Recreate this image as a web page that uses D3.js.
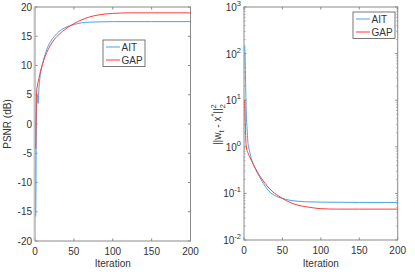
<!DOCTYPE html>
<html>
<head>
<meta charset="utf-8">
<script src="https://cdn.jsdelivr.net/npm/d3@7"></script>
<style>
  body { margin: 0; background: #fff; }
  text { font-family: "Liberation Sans", Arial, sans-serif; fill: #333; }
</style>
</head>
<body>
<svg id="chart" width="415" height="272"></svg>
<script>
// values
var psnr_ait_iter = [1, 2, 3, 4, 5, 7, 10, 15, 20, 25, 30, 35, 40, 45, 50, 60, 70, 80, 100, 150, 200];
var psnr_ait = [-15.8, 3, 5, 3.5, 6, 8.5, 10.4, 12.7, 14.1, 15.0, 15.7, 16.2, 16.55, 16.8, 17.0, 17.3, 17.4, 17.45, 17.5, 17.5, 17.5];
var psnr_gap_iter = [1, 2, 3, 5, 7, 10, 15, 20, 25, 30, 35, 40, 45, 50, 60, 70, 80, 90, 100, 120, 150, 200];
var psnr_gap = [-4.2, 5.5, 6.5, 7.8, 9, 10.4, 12.2, 13.5, 14.5, 15.2, 15.8, 16.3, 16.75, 17.15, 17.8, 18.3, 18.6, 18.8, 18.9, 19.0, 19.0, 19.0];

var err_ait_iter = [1, 2, 3, 4, 5, 6, 8, 10, 15, 20, 25, 30, 35, 40, 45, 50, 60, 70, 80, 100, 150, 200];
var err_ait = [150, 30, 5, 2.5, 1.3, 1.0, 0.7, 0.52, 0.33, 0.23, 0.165, 0.125, 0.102, 0.09, 0.083, 0.078, 0.071, 0.068, 0.066, 0.065, 0.064, 0.064];
var err_gap_iter = [1, 2, 3, 5, 8, 10, 15, 20, 25, 30, 35, 40, 45, 50, 55, 60, 70, 80, 90, 100, 120, 150, 200];
var err_gap = [10, 2, 1.0, 0.75, 0.58, 0.5, 0.34, 0.245, 0.185, 0.145, 0.118, 0.1, 0.088, 0.078, 0.07, 0.064, 0.056, 0.052, 0.049, 0.047, 0.046, 0.046, 0.046];

var x_ticks = [0, 50, 100, 150, 200];
var psnr_ticks = [-20, -15, -10, -5, 0, 5, 10, 15, 20];
var err_ticks = [-2, -1, 0, 1, 2, 3];
var series_names = ['AIT', 'GAP'];
var series_colors = ['#4aa3e0', '#ff3b3b'];

var svg = d3.select('#chart');
var axis_color = '#8a8a8a';
var fs = 10;

function zip(xs, ys) {
    return xs.map(function (x, i) { return [x, ys[i]]; });
}

function draw_box(g, x, y) {
    var x0 = x.range()[0], x1 = x.range()[1];
    var y0 = y.range()[0], y1 = y.range()[1];
    g.append('rect')
        .attr('x', x0).attr('y', y1)
        .attr('width', x1 - x0).attr('height', y0 - y1)
        .attr('fill', 'none').attr('stroke', axis_color).attr('stroke-width', 1);
    x_ticks.forEach(function (t) {
        g.append('line').attr('x1', x(t)).attr('x2', x(t)).attr('y1', y0).attr('y2', y0 - 2.5)
            .attr('stroke', axis_color);
        g.append('line').attr('x1', x(t)).attr('x2', x(t)).attr('y1', y1).attr('y2', y1 + 2.5)
            .attr('stroke', axis_color);
        g.append('text')
            .attr('x', x(t)).attr('y', y0 + 14)
            .attr('text-anchor', 'middle')
            .attr('font-size', fs)
            .text(t);
    });
    g.append('text')
        .attr('x', (x0 + x1) / 2).attr('y', 267)
        .attr('text-anchor', 'middle')
        .attr('font-size', fs)
        .text('Iteration');
}

function draw_legend(g, left, top) {
    g.append('rect')
        .attr('x', left).attr('y', top)
        .attr('width', 42).attr('height', 26.5)
        .attr('fill', '#fff').attr('stroke', '#555').attr('stroke-width', 0.8);
    series_names.forEach(function (name, i) {
        var yy = top + 7 + i * 13;
        g.append('line')
            .attr('x1', left + 3).attr('x2', left + 17)
            .attr('y1', yy).attr('y2', yy)
            .attr('stroke', series_colors[i]).attr('stroke-width', 1);
        g.append('text')
            .attr('x', left + 18.5).attr('y', yy + 3.6)
            .attr('font-size', fs)
            .text(name);
    });
}

// ---- left panel: PSNR ----
var left = svg.append('g');
var x1 = d3.scaleLinear().domain([0, 200]).range([35, 190.5]);
var y1 = d3.scaleLinear().domain([-20, 20]).range([241, 7]);

psnr_ticks.forEach(function (t) {
    left.append('line').attr('x1', x1(0)).attr('x2', x1(0) + 2.5).attr('y1', y1(t)).attr('y2', y1(t))
        .attr('stroke', axis_color);
    left.append('line').attr('x1', x1(200)).attr('x2', x1(200) - 2.5).attr('y1', y1(t)).attr('y2', y1(t))
        .attr('stroke', axis_color);
    left.append('text')
        .attr('x', x1(0) - 3).attr('y', y1(t) + 3.6)
        .attr('text-anchor', 'end')
        .attr('font-size', fs)
        .text(t);
});

draw_box(left, x1, y1);
left.append('line').attr('x1', x1(0) - 0.5).attr('x2', x1(0) - 0.5).attr('y1', y1(-20)).attr('y2', y1(20))
    .attr('stroke', '#c4c4c4').attr('stroke-width', 2).attr('opacity', 0.8);

var line1 = d3.line().x(function (d) { return x1(d[0]); }).y(function (d) { return y1(d[1]); })
    .curve(d3.curveMonotoneX);

left.append('path').datum(zip(psnr_ait_iter, psnr_ait))
    .attr('d', line1).attr('fill', 'none').attr('stroke', series_colors[0]).attr('stroke-width', 1);
left.append('path').datum(zip(psnr_gap_iter, psnr_gap))
    .attr('d', line1).attr('fill', 'none').attr('stroke', series_colors[1]).attr('stroke-width', 1);

left.append('text')
    .attr('transform', 'translate(11,' + y1(0) + ') rotate(-90)')
    .attr('text-anchor', 'middle')
    .attr('font-size', fs)
    .text('PSNR (dB)');

draw_legend(left, 103, 40);

// ---- right panel: error ----
var right = svg.append('g');
var x2 = d3.scaleLinear().domain([0, 200]).range([244, 397.7]);
var y2 = d3.scaleLog().domain([0.01, 1000]).range([240, 7]);

err_ticks.forEach(function (p) {
    var v = Math.pow(10, p);
    right.append('line').attr('x1', x2(0)).attr('x2', x2(0) + 2.5).attr('y1', y2(v)).attr('y2', y2(v))
        .attr('stroke', axis_color);
    right.append('line').attr('x1', x2(200)).attr('x2', x2(200) - 2.5).attr('y1', y2(v)).attr('y2', y2(v))
        .attr('stroke', axis_color);
    if (p < 3) {
        for (var m = 2; m < 10; m++) {
            var mv = m * v;
            right.append('line').attr('x1', x2(0)).attr('x2', x2(0) + 1.5).attr('y1', y2(mv)).attr('y2', y2(mv))
                .attr('stroke', axis_color).attr('stroke-width', 0.7);
            right.append('line').attr('x1', x2(200)).attr('x2', x2(200) - 1.5).attr('y1', y2(mv)).attr('y2', y2(mv))
                .attr('stroke', axis_color).attr('stroke-width', 0.7);
        }
    }
    var lbl = right.append('text')
        .attr('x', x2(0) - 3).attr('y', y2(v) + 4)
        .attr('text-anchor', 'end')
        .attr('font-size', fs);
    lbl.append('tspan').text('10');
    lbl.append('tspan').attr('dy', -5).attr('font-size', 7.5).text(p);
});

draw_box(right, x2, y2);

var line2 = d3.line().x(function (d) { return x2(d[0]); }).y(function (d) { return y2(d[1]); })
    .curve(d3.curveMonotoneX);

right.append('path').datum(zip(err_ait_iter, err_ait))
    .attr('d', line2).attr('fill', 'none').attr('stroke', series_colors[0]).attr('stroke-width', 1);
right.append('path').datum(zip(err_gap_iter, err_gap))
    .attr('d', line2).attr('fill', 'none').attr('stroke', series_colors[1]).attr('stroke-width', 1);

var ylab = right.append('text')
    .attr('transform', 'translate(221,' + y2(3) + ') rotate(-90)')
    .attr('text-anchor', 'middle')
    .attr('font-size', fs);
ylab.append('tspan').text('||w');
ylab.append('tspan').attr('dy', 3).attr('font-size', 7.5).text('t');
ylab.append('tspan').attr('dy', -3).text(' - x');
ylab.append('tspan').attr('dy', -5).attr('font-size', 7.5).text('*');
ylab.append('tspan').attr('dy', 5).text('||');
ylab.append('tspan').attr('dy', -5).attr('font-size', 7.5).text('2');
ylab.append('tspan').attr('dx', -4).attr('dy', 9).attr('font-size', 7.5).text('2');

draw_legend(right, 353, 12);
</script>
</body>
</html>
